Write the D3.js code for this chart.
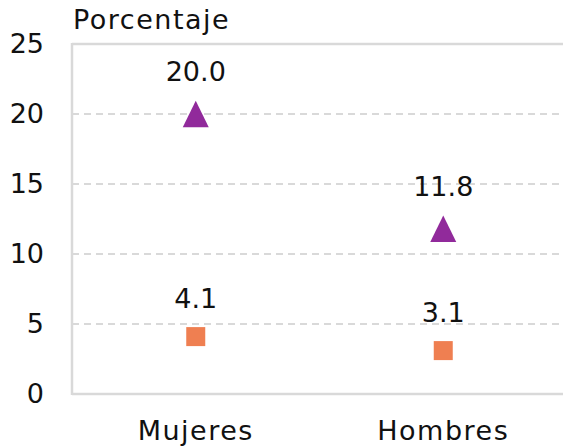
<!DOCTYPE html>
<html>
<head>
<meta charset="utf-8">
<script src="https://cdn.jsdelivr.net/npm/d3@7"></script>
<style>
  body { margin: 0; background: #fff; }
  text { font-family: "DejaVu Sans", sans-serif; fill: #111; }
</style>
</head>
<body>
<div id="chart"></div>
<script>
var categories = ["Mujeres", "Hombres"];
var triangleValues = [20.0, 11.8];
var squareValues = [4.1, 3.1];
var yTicks = [0, 5, 10, 15, 20, 25];
var yTitle = "Porcentaje";

var WIDTH = 563, HEIGHT = 446;
var margin = {top: 44, right: -4, bottom: 52, left: 72};
var GRID_COLOR = "#d9d9d9";
var TRIANGLE_COLOR = "#912A9B";
var SQUARE_COLOR = "#EF7F51";
var FONT_SIZE = "27px";

var svg = d3.select("#chart").append("svg")
    .attr("width", WIDTH).attr("height", HEIGHT);

var x = d3.scaleBand().domain(categories)
    .range([margin.left, WIDTH - margin.right]);
var y = d3.scaleLinear().domain([0, 25])
    .range([HEIGHT - margin.bottom, margin.top]);

// gridlines
svg.append("g").selectAll("line")
    .data(yTicks)
    .enter().append("line")
    .attr("x1", margin.left).attr("x2", WIDTH)
    .attr("y1", function(d){ return y(d); })
    .attr("y2", function(d){ return y(d); })
    .attr("stroke", GRID_COLOR)
    .attr("stroke-width", function(d){ return (d == 0 || d == 25) ? 2.5 : 2; })
    .attr("stroke-dasharray", function(d){ return (d == 0 || d == 25) ? null : "7,5"; });

// left axis line
svg.append("line")
    .attr("x1", margin.left).attr("x2", margin.left)
    .attr("y1", y(25) - 1).attr("y2", y(0) + 1)
    .attr("stroke", GRID_COLOR).attr("stroke-width", 2.5);

// tick labels
var yAxis = svg.append("g")
    .attr("transform", "translate(" + margin.left + ",0)")
    .call(d3.axisLeft(y).tickValues(yTicks).tickSize(0).tickPadding(28));
yAxis.select(".domain").remove();
yAxis.selectAll("text")
    .style("font-family", "DejaVu Sans, sans-serif")
    .style("font-size", FONT_SIZE)
    .attr("fill", "#111");

var xAxis = svg.append("g")
    .attr("transform", "translate(0," + y(0) + ")")
    .call(d3.axisBottom(x).tickSize(0).tickPadding(27));
xAxis.select(".domain").remove();
xAxis.selectAll("text")
    .style("font-family", "DejaVu Sans, sans-serif")
    .style("font-size", FONT_SIZE)
    .style("letter-spacing", "1.5px")
    .attr("fill", "#111");

svg.append("text")
    .attr("x", margin.left + 1).attr("y", 29)
    .style("font-size", FONT_SIZE)
    .style("letter-spacing", "1.5px")
    .text(yTitle);

// triangles (bbox centred on the value)
function trianglePath(w, h) {
    return "M0," + (-h / 2) + "L" + (w / 2) + "," + (h / 2) + "L" + (-w / 2) + "," + (h / 2) + "Z";
}
svg.append("g").selectAll("path")
    .data(triangleValues)
    .enter().append("path")
    .attr("d", trianglePath(26, 26.5))
    .attr("fill", TRIANGLE_COLOR)
    .attr("transform", function(d, i){
        return "translate(" + (x(categories[i]) + x.bandwidth() / 2) + "," + y(d) + ")";
    });

svg.append("g").selectAll("rect")
    .data(squareValues)
    .enter().append("rect")
    .attr("x", function(d, i){ return x(categories[i]) + x.bandwidth() / 2 - 9.5; })
    .attr("y", function(d){ return y(d) - 9.5; })
    .attr("width", 19).attr("height", 19)
    .attr("fill", SQUARE_COLOR);

// value labels
function addLabels(values, offset) {
    svg.append("g").selectAll("text")
        .data(values)
        .enter().append("text")
        .attr("x", function(d, i){ return x(categories[i]) + x.bandwidth() / 2; })
        .attr("y", function(d){ return y(d) - offset; })
        .attr("text-anchor", "middle")
        .style("font-size", FONT_SIZE)
        .text(function(d){ return d.toFixed(1); });
}
addLabels(triangleValues, 33);
addLabels(squareValues, 28.6);
</script>
</body>
</html>
